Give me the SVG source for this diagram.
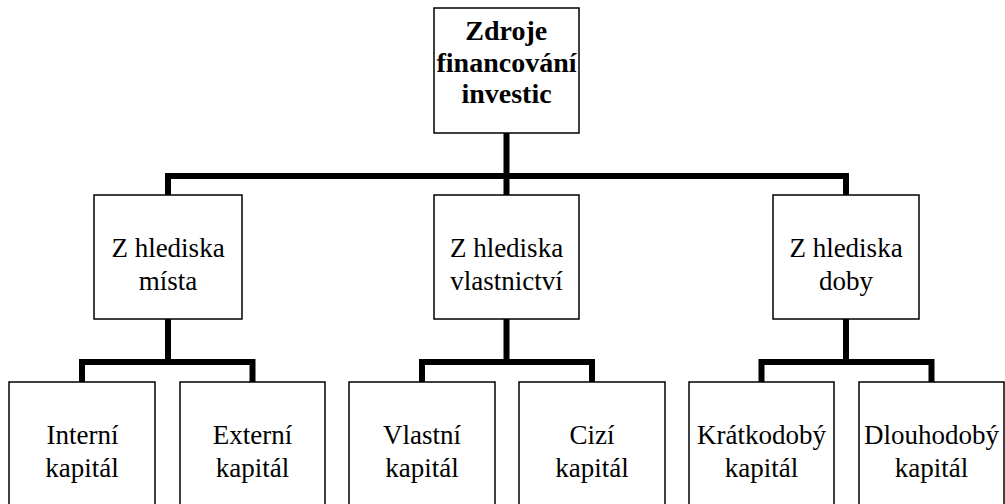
<svg xmlns="http://www.w3.org/2000/svg" width="1005" height="504" viewBox="0 0 1005 504">
<style>
.box{fill:#fff;stroke:#000;stroke-width:1.5}
.c{fill:none;stroke:#000;stroke-width:6;stroke-linejoin:miter;stroke-linecap:butt}
</style>
<rect width="1005" height="504" fill="#fff"/>
<g id="connectors">
<path class="c" d="M506.5,133 V195"/>
<path class="c" d="M168,195 V176 H846 V195"/>
<path class="c" d="M168,319 V362"/>
<path class="c" d="M82,382 V362 H252.5 V382"/>
<path class="c" d="M506.5,319 V362"/>
<path class="c" d="M422,382 V362 H592 V382"/>
<path class="c" d="M846,319 V362"/>
<path class="c" d="M761.5,382 V362 H931.5 V382"/>
</g>
<g id="misto">
<rect class="box" x="94" y="195" width="148" height="124"/>
<text x="111.4" y="257" font-family="Liberation Serif" font-size="27">Z hlediska</text>
<text x="138.8" y="290" font-family="Liberation Serif" font-size="27">místa</text>
</g>
<g id="vlastnictvi">
<rect class="box" x="434" y="195" width="145" height="124"/>
<text x="449.9" y="257" font-family="Liberation Serif" font-size="27">Z hlediska</text>
<text x="450.3" y="290" font-family="Liberation Serif" font-size="27">vlastnictví</text>
</g>
<g id="doba">
<rect class="box" x="773" y="195" width="146" height="124"/>
<text x="789.4" y="257" font-family="Liberation Serif" font-size="27">Z hlediska</text>
<text x="819" y="290" font-family="Liberation Serif" font-size="27">doby</text>
</g>
<g id="interni">
<rect class="box" x="9" y="382" width="146" height="140"/>
<text x="46.5" y="444" font-family="Liberation Serif" font-size="27">Interní</text>
<text x="45.3" y="477" font-family="Liberation Serif" font-size="27">kapitál</text>
</g>
<g id="externi">
<rect class="box" x="180" y="382" width="145" height="140"/>
<text x="212.8" y="444" font-family="Liberation Serif" font-size="27">Externí</text>
<text x="215.8" y="477" font-family="Liberation Serif" font-size="27">kapitál</text>
</g>
<g id="vlastni">
<rect class="box" x="349" y="382" width="146" height="140"/>
<text x="383" y="444" font-family="Liberation Serif" font-size="27">Vlastní</text>
<text x="385.3" y="477" font-family="Liberation Serif" font-size="27">kapitál</text>
</g>
<g id="cizi">
<rect class="box" x="519" y="382" width="146" height="140"/>
<text x="569.5" y="444" font-family="Liberation Serif" font-size="27">Cizí</text>
<text x="555.3" y="477" font-family="Liberation Serif" font-size="27">kapitál</text>
</g>
<g id="kratkodoby">
<rect class="box" x="689" y="382" width="145" height="140"/>
<text x="697" y="444" font-family="Liberation Serif" font-size="27">Krátkodobý</text>
<text x="724.8" y="477" font-family="Liberation Serif" font-size="27">kapitál</text>
</g>
<g id="dlouhodoby">
<rect class="box" x="859" y="382" width="145" height="140"/>
<text x="864" y="444" font-family="Liberation Serif" font-size="27">Dlouhodobý</text>
<text x="894.8" y="477" font-family="Liberation Serif" font-size="27">kapitál</text>
</g>
<g id="root">
<rect class="box" x="434" y="8" width="145" height="125"/>
<text x="465.3" y="40" font-family="Liberation Serif" font-size="28" font-weight="bold">Zdroje</text>
<text x="436.5" y="72" font-family="Liberation Serif" font-size="28" font-weight="bold">financování</text>
<text x="461.4" y="103" font-family="Liberation Serif" font-size="28" font-weight="bold">investic</text>
</g>
</svg>
